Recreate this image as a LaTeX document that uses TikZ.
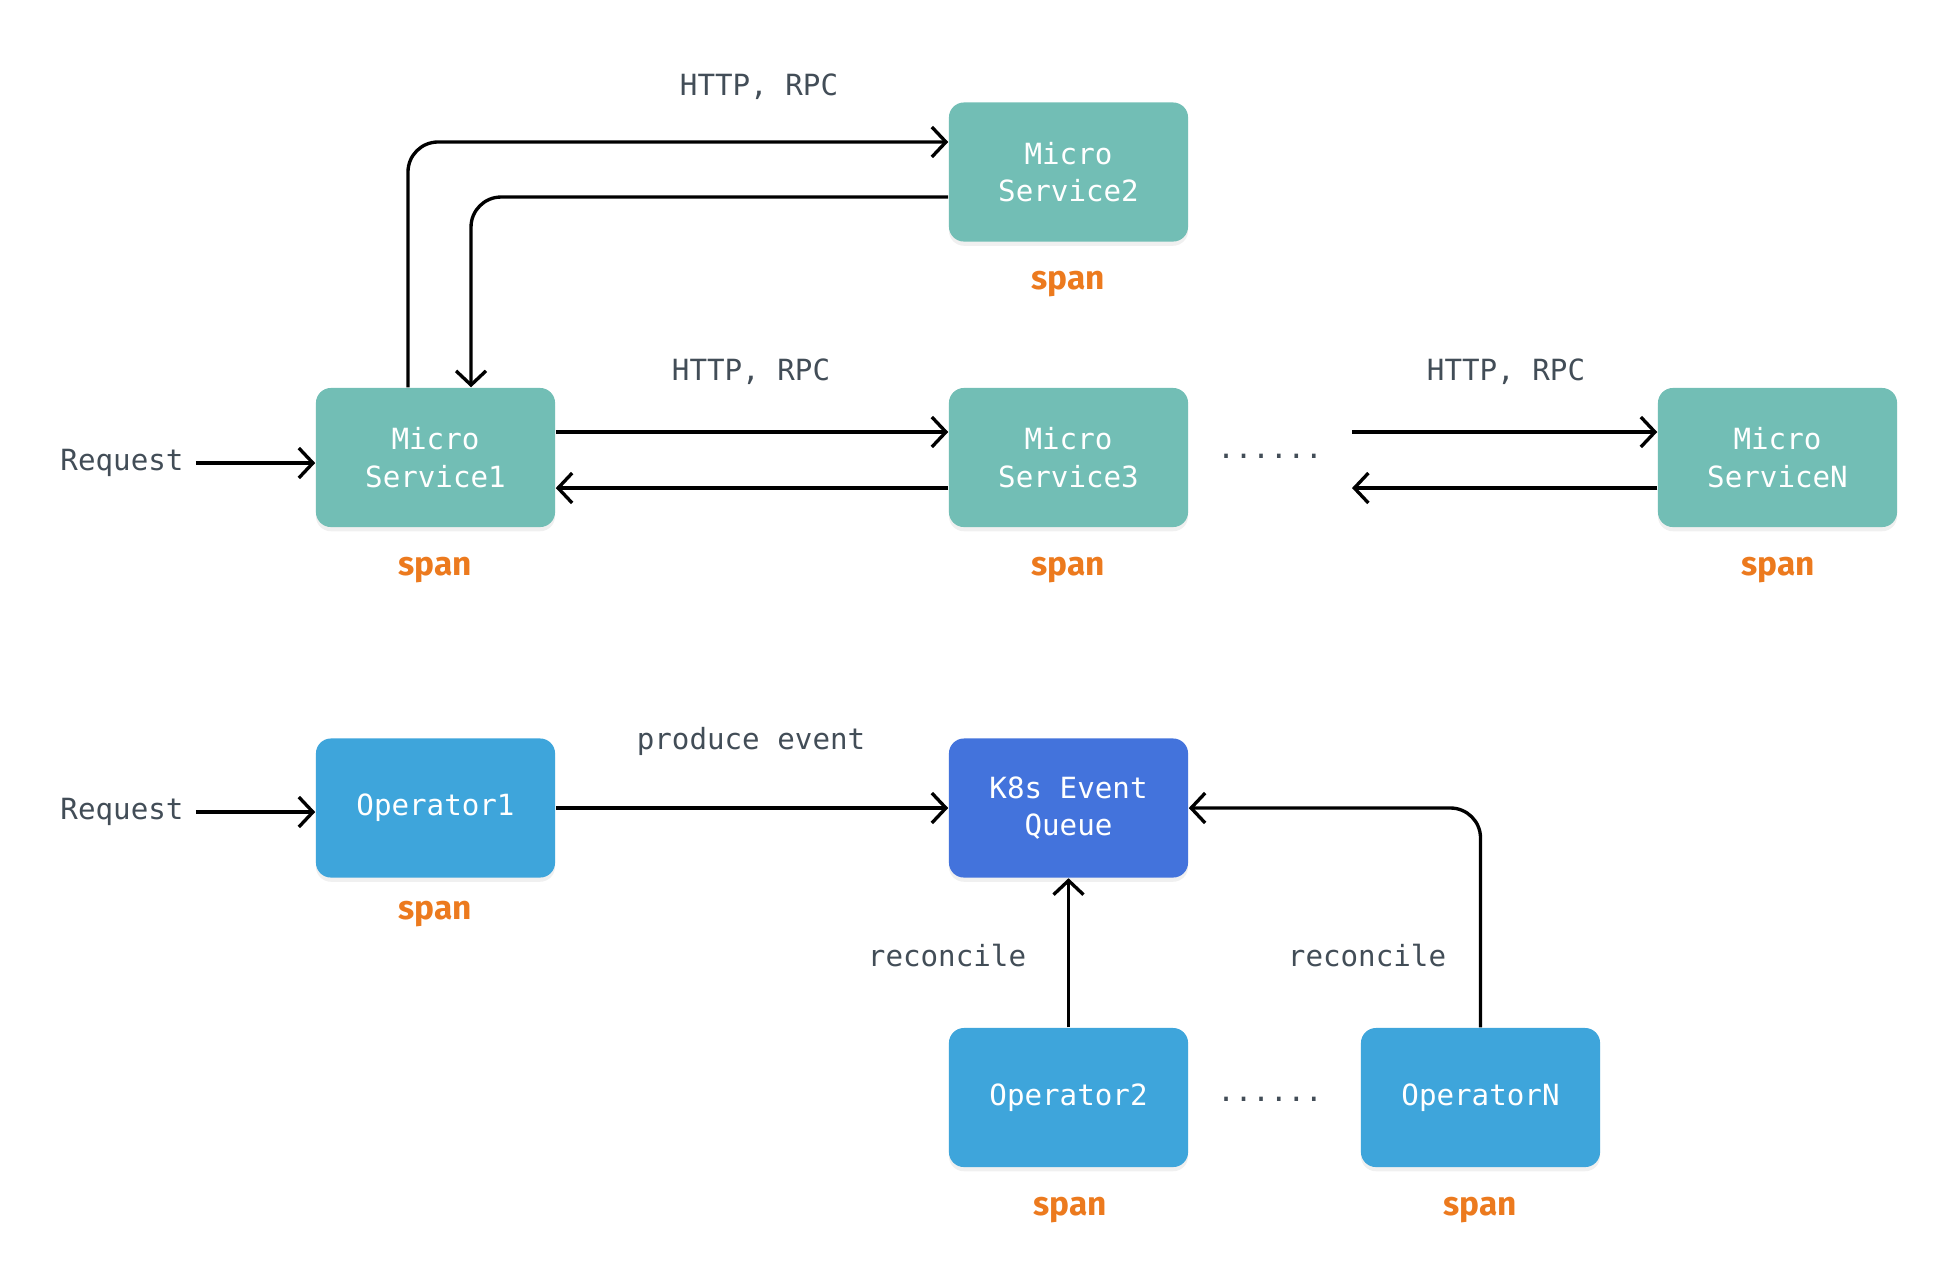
\documentclass[tikz,border=0pt]{standalone}
\usepackage{fontspec}
\setmonofont{DejaVu Sans Mono}
\newfontfamily\spanfamily{Fira Sans}
\usepackage{tikz}
\usetikzlibrary{arrows.meta,shadows}

\definecolor{svcgreen}{RGB}{114,190,181}
\definecolor{opblue}{RGB}{62,165,219}
\definecolor{queueblue}{RGB}{67,115,220}
\definecolor{lblgray}{RGB}{66,77,87}
\definecolor{spanorange}{RGB}{236,122,30}

\tikzset{
  box/.style={rectangle, rounded corners=0.15cm, minimum width=2.39cm, minimum height=1.39cm,
    align=center, text=white, font=\ttfamily\fontsize{8.3}{10.6}\selectfont,
    drop shadow={opacity=0.12, shadow xshift=0pt, shadow yshift=-1.2pt}},
  svc/.style={box, fill=svcgreen},
  op/.style={box, fill=opblue},
  queue/.style={box, fill=queueblue},
  lbl/.style={text=lblgray, font=\ttfamily\fontsize{8.3}{10.6}\selectfont},
  spanlbl/.style={text=spanorange, font=\spanfamily\bfseries\fontsize{9.5}{11}\selectfont},
  arr/.style={-{Straight Barb[length=4pt,width=8.5pt]}, line width=0.95pt, black},
}

\begin{document}
\begin{tikzpicture}[x=0.01cm,y=-0.01cm]
\useasboundingbox (0,0) rectangle (1952,1284);

\node[svc] (ms1) at (435.5,457.5) {Micro\\Service1};
\node[svc] (ms2) at (1068.5,172) {Micro\\Service2};
\node[svc] (ms3) at (1068.5,457.5) {Micro\\Service3};
\node[svc] (msN) at (1777.5,457.5) {Micro\\ServiceN};

\node[op] (op1) at (435.5,808) {Operator1};
\node[queue] (queue) at (1068.5,808) {K8s Event\\Queue};
\node[op] (op2) at (1068.5,1097.5) {Operator2};
\node[op] (opN) at (1480.5,1097.5) {OperatorN};

\node[lbl] (req1) at (122,463) {Request};
\node[lbl] (req2) at (122,812) {Request};
\node[lbl] (http1) at (759,87) {HTTP, RPC};
\node[lbl] (http2) at (751,372) {HTTP, RPC};
\node[lbl] (http3) at (1506,372) {HTTP, RPC};
\node[lbl] (produce) at (751,741) {produce event};
\node[lbl] (rec1) at (947,956) {reconcile};
\node[lbl] (rec2) at (1367,956) {reconcile};
\node[lbl] (dots1) at (1270,456) {......};
\node[lbl] (dots2) at (1270,1099) {......};

\node[spanlbl] (span1) at (435,570) {span};
\node[spanlbl] (span2) at (1068,284) {span};
\node[spanlbl] (span3) at (1068,570) {span};
\node[spanlbl] (spanN) at (1778,570) {span};
\node[spanlbl] (span4) at (435,914) {span};
\node[spanlbl] (span5) at (1070,1210) {span};
\node[spanlbl] (span6) at (1480,1210) {span};

\coordinate (gapA) at (1352,432);
\coordinate (gapB) at (1352,488);

\draw[arr] (req1) -- (ms1.west |- req1);
\draw[arr, rounded corners=0.3cm] ([xshift=-0.275cm]ms1.north) |- ([yshift=0.3cm]ms2.west);
\draw[arr, rounded corners=0.3cm] ([yshift=-0.25cm]ms2.west) -| ([xshift=0.355cm]ms1.north);
\draw[arr] ([yshift=0.255cm]ms1.east) -- ([yshift=0.255cm]ms3.west);
\draw[arr] ([yshift=-0.305cm]ms3.west) -- ([yshift=-0.305cm]ms1.east);
\draw[arr] (gapA) -- (msN.west |- gapA);
\draw[arr] (msN.west |- gapB) -- (gapB);

\draw[arr] (req2) -- (op1.west |- req2);
\draw[arr] (op1) -- (queue);
\draw[arr] (op2) -- (queue);
\draw[arr, rounded corners=0.3cm] (opN.north) |- (queue.east);
\end{tikzpicture}
\end{document}
